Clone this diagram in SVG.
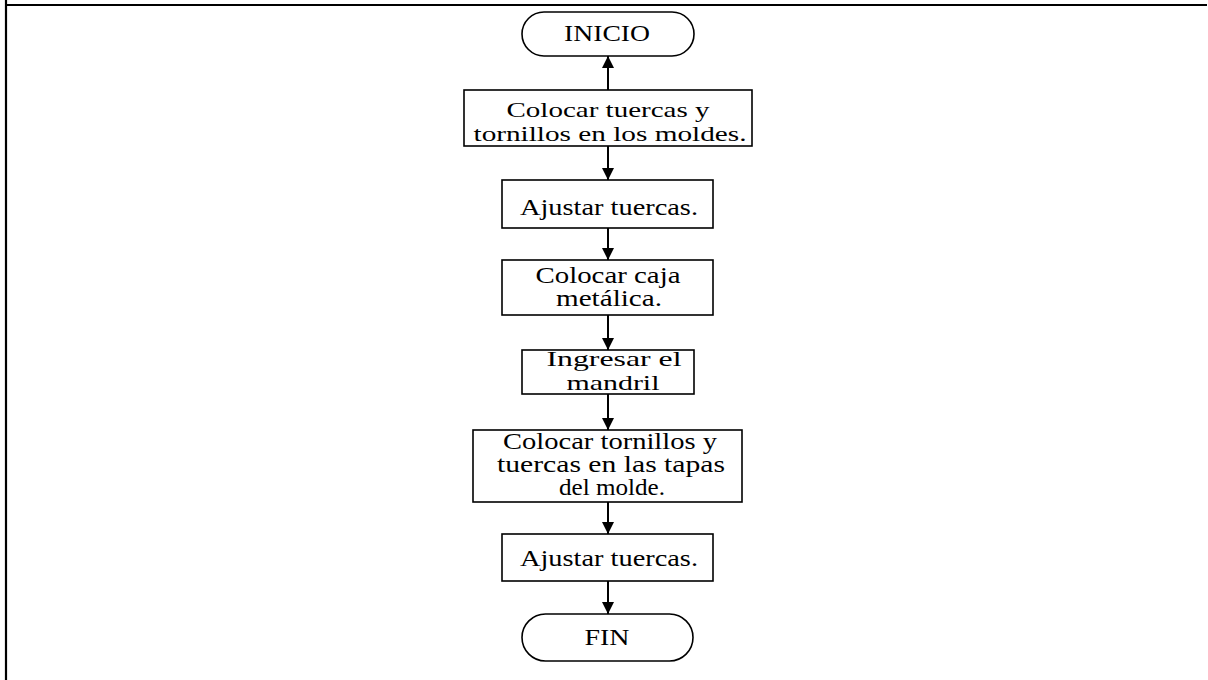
<svg xmlns="http://www.w3.org/2000/svg" width="1208" height="680" viewBox="0 0 1208 680">
  <style>
    .shape { fill: #ffffff; stroke: #000000; stroke-width: 1.6; }
    .label { font-family: "Liberation Serif", "Times New Roman", serif; font-size: 23px; fill: #000000; text-anchor: middle; }
    .tight { font-size: 21px; }
    .flow { stroke: #000000; stroke-width: 2; fill: none; marker-end: url(#head); }
    .frame { stroke: #000000; stroke-width: 2.2; fill: none; }
  </style>
  <defs>
    <marker id="head" viewBox="0 0 10 10" refX="10" refY="5" markerWidth="6" markerHeight="6" markerUnits="strokeWidth" orient="auto">
      <path d="M0,0 L10,5 L0,10 Z" fill="#000000"/>
    </marker>
  </defs>
  <rect width="1208" height="680" fill="#ffffff"/>

  <!-- table frame -->
  <g id="frame">
    <line class="frame" x1="6" y1="0" x2="6" y2="680"/>
    <line class="frame" x1="6" y1="5" x2="1207" y2="5"/>
  </g>

  <!-- connectors -->
  <g id="connectors">
    <line class="flow" x1="608" y1="90" x2="608" y2="56"/>
    <line class="flow" x1="608" y1="146" x2="608" y2="180"/>
    <line class="flow" x1="608" y1="228" x2="608" y2="260"/>
    <line class="flow" x1="608" y1="315" x2="608" y2="350"/>
    <line class="flow" x1="608" y1="394" x2="608" y2="430"/>
    <line class="flow" x1="608" y1="502" x2="608" y2="534"/>
    <line class="flow" x1="608" y1="581" x2="608" y2="614"/>
  </g>

  <g id="inicio">
    <rect class="shape" x="522" y="12" width="172" height="44" rx="22" ry="22"/>
    <text class="label" x="607" y="41" textLength="86" lengthAdjust="spacingAndGlyphs">INICIO</text>
  </g>

  <g id="paso1">
    <rect class="shape" x="464" y="90" width="288" height="56"/>
    <text class="label tight" x="608" y="117" textLength="203" lengthAdjust="spacingAndGlyphs">Colocar tuercas y</text>
    <text class="label tight" x="610" y="141" textLength="273" lengthAdjust="spacingAndGlyphs">tornillos en los moldes.</text>
  </g>

  <g id="paso2">
    <rect class="shape" x="502" y="180" width="211" height="48"/>
    <text class="label" x="609" y="215" textLength="178" lengthAdjust="spacingAndGlyphs">Ajustar tuercas.</text>
  </g>

  <g id="paso3">
    <rect class="shape" x="502" y="260" width="211" height="55"/>
    <text class="label" x="608" y="283" textLength="145" lengthAdjust="spacingAndGlyphs">Colocar caja</text>
    <text class="label" x="609" y="306" textLength="106" lengthAdjust="spacingAndGlyphs">metálica.</text>
  </g>

  <g id="paso4">
    <rect class="shape" x="522" y="350" width="172" height="44"/>
    <text class="label tight" x="614" y="366" textLength="135" lengthAdjust="spacingAndGlyphs">Ingresar el</text>
    <text class="label tight" x="613" y="390" textLength="93" lengthAdjust="spacingAndGlyphs">mandril</text>
  </g>

  <g id="paso5">
    <rect class="shape" x="473" y="430" width="269" height="72"/>
    <text class="label" x="610" y="449" textLength="214" lengthAdjust="spacingAndGlyphs">Colocar tornillos y</text>
    <text class="label" x="611" y="472" textLength="228" lengthAdjust="spacingAndGlyphs">tuercas en las tapas</text>
    <text class="label" x="612" y="495" textLength="106" lengthAdjust="spacingAndGlyphs">del molde.</text>
  </g>

  <g id="paso6">
    <rect class="shape" x="502" y="534" width="211" height="47"/>
    <text class="label" x="609" y="566" textLength="178" lengthAdjust="spacingAndGlyphs">Ajustar tuercas.</text>
  </g>

  <g id="fin">
    <rect class="shape" x="522" y="614" width="171" height="47" rx="23.5" ry="23.5"/>
    <text class="label" x="607" y="645" textLength="45" lengthAdjust="spacingAndGlyphs">FIN</text>
  </g>
</svg>
